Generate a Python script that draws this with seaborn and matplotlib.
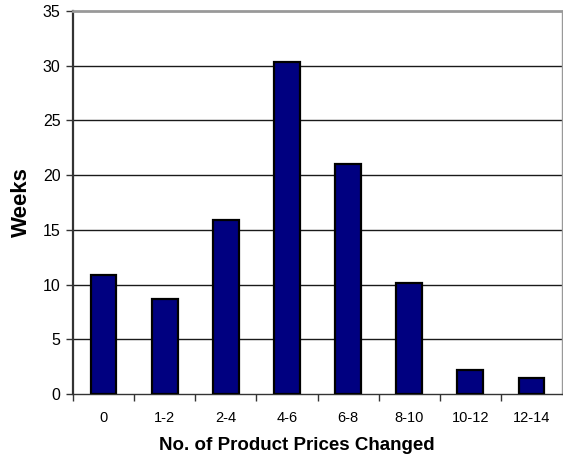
import matplotlib
matplotlib.use("Agg")
import matplotlib.pyplot as plt
import seaborn as sns
import pandas as pd

categories = ["0", "1-2", "2-4", "4-6", "6-8", "8-10", "10-12", "12-14"]
weeks = [10.9, 8.7, 15.9, 30.3, 21.0, 10.1, 2.2, 1.5]

sns.set_style("white")
plt.rcParams["font.family"] = ["Liberation Sans", "DejaVu Sans"]
plt.rcParams["text.color"] = "black"
plt.rcParams["axes.labelcolor"] = "black"
plt.rcParams["xtick.color"] = "black"
plt.rcParams["ytick.color"] = "black"

df = pd.DataFrame({"range": categories, "weeks": weeks})

fig = plt.figure(figsize=(5.63, 4.66), dpi=100)
ax = fig.add_axes([73 / 563, 1 - 394 / 466, 489 / 563, 383 / 466])

sns.barplot(data=df, x="range", y="weeks", color="#000080", width=0.42,
            edgecolor="black", linewidth=1.6, saturation=1, ax=ax, zorder=3)

ax.set_ylim(0, 35)
ax.set_xlim(-0.5, len(categories) - 0.5)
ax.set_yticks(range(0, 36, 5))
for y in range(5, 35, 5):
    ax.axhline(y, color="#1a1a1a", linewidth=1.0, zorder=1)

# spines
ax.spines["left"].set_color("#333333")
ax.spines["left"].set_linewidth(1.6)
ax.spines["bottom"].set_color("#333333")
ax.spines["bottom"].set_linewidth(1.0)
ax.spines["top"].set_color("#999999")
ax.spines["top"].set_linewidth(2.0)
ax.spines["right"].set_color("#999999")
ax.spines["right"].set_linewidth(1.0)

# y ticks outward to the left
ax.tick_params(axis="y", which="major", direction="out", length=5, width=1,
               color="#333333", labelsize=11.5, pad=4, left=True)
# x ticks at category boundaries, labels at centers
ax.set_xticks(range(len(categories)))
ax.set_xticklabels(categories)
ax.tick_params(axis="x", which="major", length=0, labelsize=10.5, pad=12)
ax.set_xticks([i + 0.5 for i in range(len(categories) - 1)] + [-0.5], minor=True)
ax.tick_params(axis="x", which="minor", direction="out", length=5, width=1,
               color="#333333", bottom=True)

ax.set_xlabel("No. of Product Prices Changed", fontsize=13.5, fontweight="bold")
ax.xaxis.set_label_coords((297 - 73) / 489, -(446 - 394) / 383)
ax.xaxis.label.set_verticalalignment("center")
ax.set_ylabel("Weeks", fontsize=16, fontweight="bold")
ax.yaxis.set_label_coords(-(73 - 21) / 489, 0.5)
ax.yaxis.label.set_verticalalignment("center")

fig.savefig("out.png", dpi=100)
